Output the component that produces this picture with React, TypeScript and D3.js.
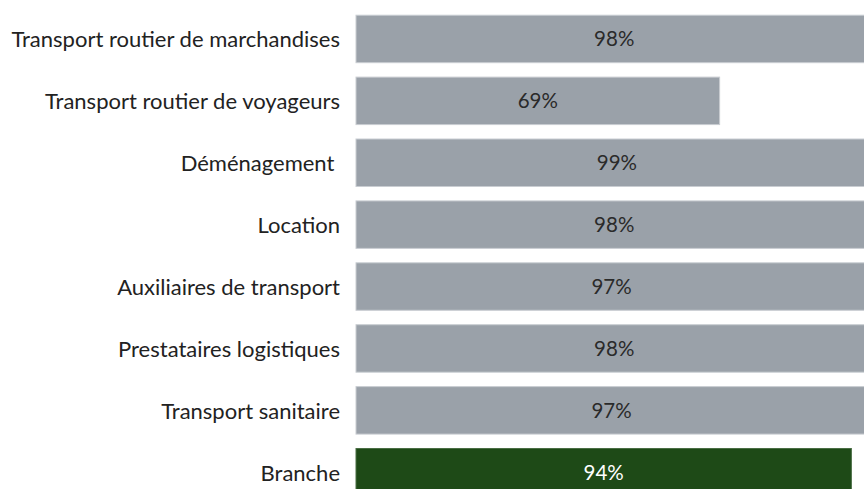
import React from "react";
import * as d3 from "d3";

const categories = [
  "Transport routier de marchandises",
  "Transport routier de voyageurs",
  "Déménagement ",
  "Location",
  "Auxiliaires de transport",
  "Prestataires logistiques",
  "Transport sanitaire",
  "Branche",
];
const values = [98, 69, 99, 98, 97, 98, 97, 94];
const highlight = ["Branche"];

const W = 864;
const H = 489;

export default function App() {
  const x = d3.scaleLinear().domain([0, 100]).range([356, 883]);
  const y = d3
    .scaleBand<string>()
    .domain(categories)
    .range([8, 503.2])
    .paddingInner(0.233)
    .paddingOuter(0.1165);
  const font = "Lato, 'Open Sans', sans-serif";
  return (
    <svg width={W} height={H} style={{ position: "absolute", left: 0, top: 0, background: "#fff" }}>
      {categories.map((c, i) => {
        const v = values[i];
        const yy = y(c)!;
        const bh = y.bandwidth();
        const cy = yy + bh / 2;
        const isH = highlight.includes(c);
        return (
          <g key={c}>
            <rect
              x={x(0)}
              y={yy}
              width={x(v) - x(0)}
              height={bh}
              fill={isH ? "#1e4a17" : "#9aa1a9"}
              stroke={isH ? "#4a6e44" : "#c9cdd2"}
              strokeWidth={1}
            />
            <text
              x={340}
              y={cy + 8.5}
              textAnchor="end"
              fontFamily={font}
              fontSize={22}
              fill="#222"
              style={{ whiteSpace: "pre" }}
            >
              {c}
            </text>
            <text
              x={(x(0) + x(v)) / 2}
              y={cy + 7.5}
              textAnchor="middle"
              fontFamily={font}
              fontSize={20.5}
              fill={isH ? "#ffffff" : "#2a2a2a"}
            >
              {v + "%"}
            </text>
          </g>
        );
      })}
    </svg>
  );
}
